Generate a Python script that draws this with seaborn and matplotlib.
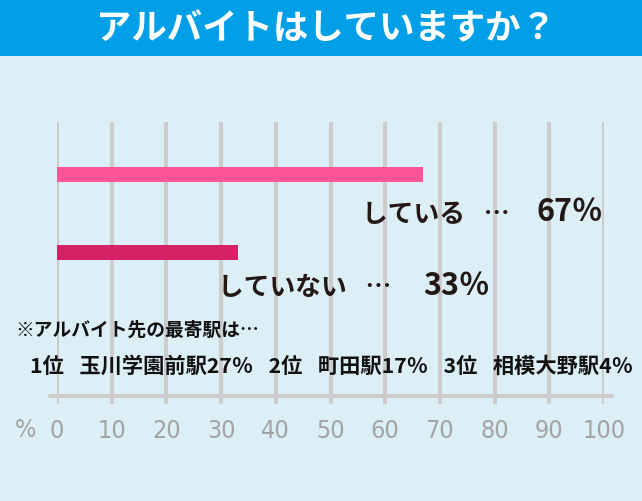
import matplotlib
matplotlib.use("Agg")
import matplotlib.pyplot as plt
import seaborn as sns
import pandas as pd
from matplotlib.lines import Line2D
from matplotlib.patches import Rectangle

# ---- data ----
categories = ["している", "していない"]
values = [67, 33]
bar_colors = ["#FF5598", "#D62264"]
tick_values = [0, 10, 20, 30, 40, 50, 60, 70, 80, 90, 100]
tick_labels = [str(v) for v in tick_values]
title = "アルバイトはしていますか？"
note = "※アルバイト先の最寄駅は…"
ranking = "1位\u2002 玉川学園前駅27％\u2002 2位\u2002 町田駅17％\u2002 3位\u2002 相模大野駅4％"

sns.set_theme(style="white")
plt.rcParams['font.family'] = ['Noto Sans CJK JP', 'DejaVu Sans']

W, H = 642, 502
BG = "#DCEEF6"
fig = plt.figure(figsize=(W / 100, H / 100), dpi=100)
fig.patch.set_facecolor(BG)

# title band
fig.patches.append(Rectangle((0, 1 - 57 / H), 1, 57 / H, transform=fig.transFigure,
                             facecolor="#009FE8", edgecolor="none", zorder=0))
fig.text(326 / W, 1 - 29 / H, title, color="white", fontsize=25.5, fontweight="bold",
         ha="center", va="center")

# axes: x 0 -> 57px, 100 -> 604px ; y from 123px to 405px
x0, x1 = 57, 604
top, bot = 123, 405
ax = fig.add_axes([x0 / W, 1 - bot / H, (x1 - x0) / W, (bot - top) / H])
ax.set_facecolor("none")

df = pd.DataFrame({"cat": categories, "val": values})
sns.barplot(data=df, x="val", y="cat", hue="cat", palette=bar_colors,
            orient="h", width=15 / 78, ax=ax, legend=False, zorder=3,
            saturation=1, linewidth=0)

c0 = 175.5
ax.set_ylim((bot - c0) / 78, (top - c0) / 78)
ax.set_xlim(0, 100)
for s in ax.spines.values():
    s.set_visible(False)
ax.set_ylabel("")
ax.set_xlabel("")
ax.set_yticks([])

# vertical grid
for v in tick_values:
    ax.axvline(v, color="#CCCCCC", lw=2.9, zorder=1)

# horizontal axis line
ppx = (x1 - x0) / 100
ax.add_line(Line2D([(50 - x0) / ppx, (612 - x0) / ppx], [(397 - c0) / 78] * 2,
                   color="#CCCCCC", lw=2.9, clip_on=False, zorder=2))

tick_font = dict(family=['DejaVu Sans'], stretch='condensed')
ax.set_xticks(tick_values)
ax.set_xticklabels(tick_labels)
ax.tick_params(axis="x", length=0, pad=10, labelsize=18, labelcolor="#A3A3A3")
for t in ax.get_xticklabels():
    t.set_family(tick_font['family'])
    t.set_stretch(tick_font['stretch'])
fig.text(25 / W, 1 - 430 / H, "%", color="#A3A3A3", fontsize=18,
         ha="center", va="center", **tick_font)

# value labels: category part + number part
label_pos = [(362, 603, 214), (218, 490, 288)]   # left px, right px, center y px
for cat, val, (lx, rx, yy) in zip(categories, values, label_pos):
    ax.text((lx - x0) / ppx, (yy - c0) / 78, f"{cat}\u2002 …",
            ha="left", va="center", fontsize=18.5, fontweight="bold",
            color="#231815", zorder=5)
    ax.text((rx - x0) / ppx, (yy - c0) / 78 - 0.02, f"{val}％",
            ha="right", va="center", fontsize=22, fontweight="bold",
            color="#231815", zorder=5)

# notes
fig.text(15 / W, 1 - 330 / H, note, fontsize=13.5, fontweight="bold", color="#111111",
         ha="left", va="center")
fig.text(30 / W, 1 - 366 / H, ranking, fontsize=15.3, fontweight="bold", color="#111111",
         ha="left", va="center")

fig.savefig("out.png", dpi=100, facecolor=BG)
